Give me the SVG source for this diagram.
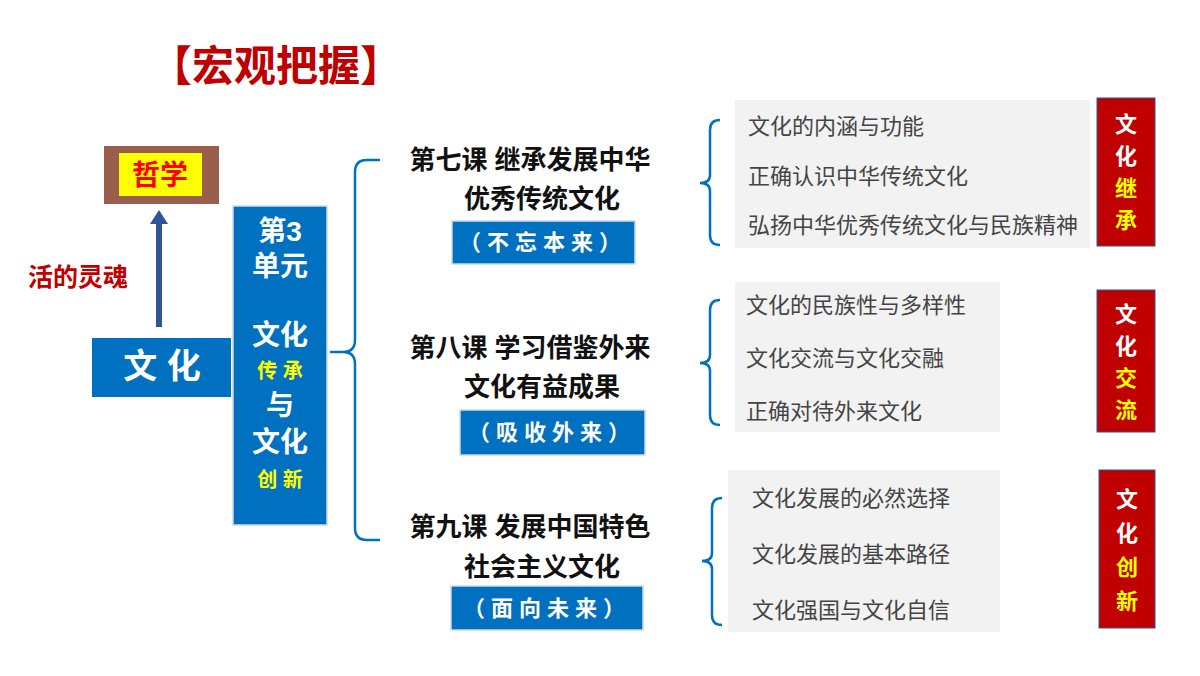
<svg xmlns="http://www.w3.org/2000/svg" width="1200" height="676" viewBox="0 0 1200 676">
<style>
text{font-family:"Liberation Sans","Noto Sans CJK SC",sans-serif}
.b{font-weight:bold}
.blue{fill:#0070c0}
.tag{fill:#0070c0;stroke:#d0d8e8;stroke-width:1.5}
.tagt{fill:#fff;font-size:22px;font-weight:bold;letter-spacing:6px}
.les{font-size:26px;font-weight:bold;fill:#111}
.item{font-size:22px;fill:#444}
.panel{fill:#f2f2f2}
.red{fill:#c00000;stroke:#2f5597;stroke-width:1}
.rw{fill:#fff;font-size:22px;font-weight:bold}
.ry{fill:#ffff00;font-size:22px;font-weight:bold}
.br{fill:none;stroke:#0070c0;stroke-width:2.5}
</style>
<rect width="1200" height="676" fill="#fff"/>
<text x="150" y="81" font-size="42" class="b" fill="#c00000">【宏观把握】</text>
<g id="zhexue"><rect x="104" y="146" width="115" height="58" fill="#9a5f4c"/><rect x="119" y="153" width="83" height="43" fill="#ffff00"/><text x="160" y="185" font-size="28" class="b" fill="#ff0000" text-anchor="middle">哲学</text></g>
<g id="connectors">
<line x1="159" y1="327" x2="159" y2="222" stroke="#2f5597" stroke-width="6"/>
<polygon points="150,224 168,224 159,210" fill="#2f5597"/>
<path class="br" d="M330,352 H343 Q355,352 355,340 V172 Q355,160 367,160 H380 M355,364 V528 Q355,540 367,540 H380 M343,352 Q355,352 355,364"/>
<path class="br" d="M720,120 Q710,120 710,130 V175 Q710,183 700,183 Q710,183 710,191 V235 Q710,245 720,245"/>
<path class="br" d="M720,300 Q710,300 710,310 V355 Q710,363 700,363 Q710,363 710,371 V415 Q710,425 720,425"/>
<path class="br" d="M722,498 Q712,498 712,508 V553 Q712,561 702,561 Q712,561 712,569 V615 Q712,625 722,625"/>
</g>
<text x="28" y="286" font-size="25" class="b" fill="#c00000">活的灵魂</text>
<g id="wenhua"><rect x="92" y="338" width="139" height="59" class="blue"/><text x="162" y="378" font-size="34" class="b" fill="#fff" text-anchor="middle">文 化</text></g>
<g id="unit"><rect x="233" y="206" width="94" height="319" class="tag"/>
<g text-anchor="middle" class="b">
<text x="280" y="241" font-size="28" fill="#fff">第3</text>
<text x="280" y="276" font-size="28" fill="#fff">单元</text>
<text x="280" y="345" font-size="28" fill="#fff">文化</text>
<text x="280" y="378" font-size="20" fill="#ffff00">传 承</text>
<text x="280" y="415" font-size="28" fill="#fff">与</text>
<text x="280" y="452" font-size="28" fill="#fff">文化</text>
<text x="280" y="487" font-size="20" fill="#ffff00">创 新</text></g></g>
<g id="l7"><text x="530" y="169" class="les" text-anchor="middle">第七课 继承发展中华</text><text x="542" y="208" class="les" text-anchor="middle">优秀传统文化</text><rect x="452" y="221" width="183" height="43" class="tag"/><text x="543" y="250" class="tagt" text-anchor="middle">（不忘本来）</text></g>
<g id="l8"><text x="530" y="357" class="les" text-anchor="middle">第八课 学习借鉴外来</text><text x="542" y="396" class="les" text-anchor="middle">文化有益成果</text><rect x="460" y="410" width="185" height="45" class="tag"/><text x="552" y="440" class="tagt" text-anchor="middle">（吸收外来）</text></g>
<g id="l9"><text x="530" y="536" class="les" text-anchor="middle">第九课 发展中国特色</text><text x="542" y="576" class="les" text-anchor="middle">社会主义文化</text><rect x="451" y="586" width="192" height="44" class="tag"/><text x="547" y="616" class="tagt" text-anchor="middle">（面向未来）</text></g>
<g id="p1"><rect x="735" y="100" width="355" height="148" class="panel"/><text x="748" y="134" class="item">文化的内涵与功能</text><text x="748" y="184" class="item">正确认识中华传统文化</text><text x="748" y="233" class="item">弘扬中华优秀传统文化与民族精神</text></g>
<g id="p2"><rect x="735" y="282" width="265" height="150" class="panel"/><text x="746" y="313" class="item">文化的民族性与多样性</text><text x="746" y="366" class="item">文化交流与文化交融</text><text x="746" y="419" class="item">正确对待外来文化</text></g>
<g id="p3"><rect x="728" y="470" width="272" height="162" class="panel"/><text x="752" y="506" class="item">文化发展的必然选择</text><text x="752" y="562" class="item">文化发展的基本路径</text><text x="752" y="618" class="item">文化强国与文化自信</text></g>
<g id="r1" text-anchor="middle"><rect x="1097" y="98" width="58" height="148" class="red"/><text x="1126" y="132" class="rw">文</text><text x="1126" y="164" class="rw">化</text><text x="1126" y="196" class="ry">继</text><text x="1126" y="228" class="ry">承</text></g>
<g id="r2" text-anchor="middle"><rect x="1097" y="290" width="58" height="142" class="red"/><text x="1126" y="322" class="rw">文</text><text x="1126" y="354" class="rw">化</text><text x="1126" y="386" class="ry">交</text><text x="1126" y="418" class="ry">流</text></g>
<g id="r3" text-anchor="middle"><rect x="1099" y="470" width="56" height="158" class="red"/><text x="1127" y="507" class="rw">文</text><text x="1127" y="541" class="rw">化</text><text x="1127" y="575" class="ry">创</text><text x="1127" y="609" class="ry">新</text></g>
</svg>
